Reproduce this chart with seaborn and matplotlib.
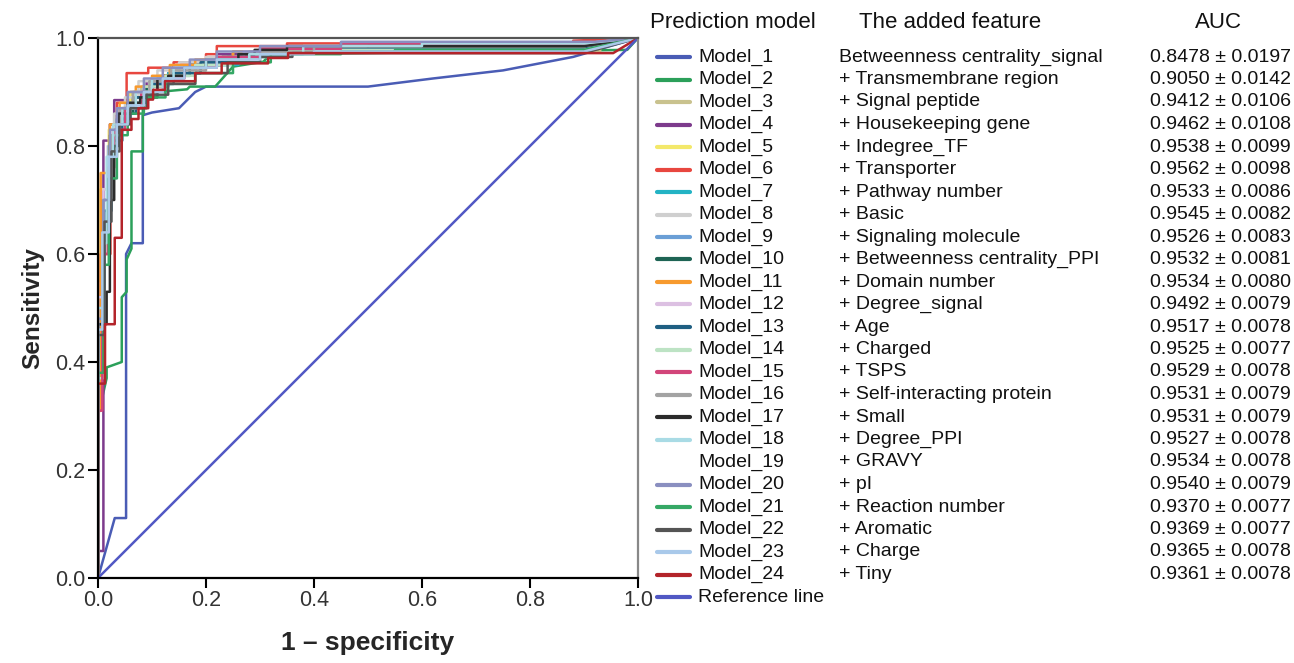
import numpy as np
import pandas as pd
import matplotlib
matplotlib.use("Agg")
import matplotlib.pyplot as plt
from matplotlib.lines import Line2D
import seaborn as sns

# ---------------- data ----------------
model_names = [f"Model_{i}" for i in range(1, 25)]
features = ["Betweenness centrality_signal", "+ Transmembrane region", "+ Signal peptide",
            "+ Housekeeping gene", "+ Indegree_TF", "+ Transporter", "+ Pathway number",
            "+ Basic", "+ Signaling molecule", "+ Betweenness centrality_PPI",
            "+ Domain number", "+ Degree_signal", "+ Age", "+ Charged", "+ TSPS",
            "+ Self-interacting protein", "+ Small", "+ Degree_PPI", "+ GRAVY", "+ pI",
            "+ Reaction number", "+ Aromatic", "+ Charge", "+ Tiny"]
auc_text = ["0.8478 ± 0.0197", "0.9050 ± 0.0142", "0.9412 ± 0.0106", "0.9462 ± 0.0108",
            "0.9538 ± 0.0099", "0.9562 ± 0.0098", "0.9533 ± 0.0086", "0.9545 ± 0.0082",
            "0.9526 ± 0.0083", "0.9532 ± 0.0081", "0.9534 ± 0.0080", "0.9492 ± 0.0079",
            "0.9517 ± 0.0078", "0.9525 ± 0.0077", "0.9529 ± 0.0078", "0.9531 ± 0.0079",
            "0.9531 ± 0.0079", "0.9527 ± 0.0078", "0.9534 ± 0.0078", "0.9540 ± 0.0079",
            "0.9370 ± 0.0077", "0.9369 ± 0.0077", "0.9365 ± 0.0078", "0.9361 ± 0.0078"]
colors = ["#4a5cb5", "#2ba05a", "#c9c28e", "#7d3b8c", "#f3e86a", "#e8473f", "#23b3c4",
          "#cfcfcf", "#6b9fd6", "#1e6454", "#f79a2e", "#dcc0e2", "#1f5f82", "#bde3c4",
          "#d2457a", "#a3a3a3", "#2b2b2b", "#a9dbe5", "#ffffff", "#8a8fc0", "#35a865",
          "#555555", "#a9c9ea", "#b3242a"]
ref_color = "#5158c4"

# Model_1 and Model_2: polyline vertices (1 - specificity, sensitivity)
m1_fpr = [0, 0.031, 0.052, 0.052, 0.062, 0.083, 0.083, 0.10, 0.15, 0.18, 0.20, 0.50, 0.62, 0.75, 0.88, 1.0]
m1_tpr = [0, 0.111, 0.111, 0.60, 0.62, 0.62, 0.857, 0.862, 0.870, 0.90, 0.91, 0.91, 0.925, 0.94, 0.965, 1.0]
m2_fpr = [0, 0, 0.016, 0.016, 0.044, 0.044, 0.053, 0.053, 0.062, 0.062, 0.083, 0.083, 0.11,
          0.165, 0.17, 0.217, 0.25, 0.306, 0.32, 0.98, 1.0]
m2_tpr = [0, 0.30, 0.37, 0.39, 0.40, 0.52, 0.53, 0.59, 0.61, 0.79, 0.79, 0.89, 0.90,
          0.905, 0.91, 0.91, 0.947, 0.956, 0.97, 0.978, 1.0]

# Models 3-24: staircase corner points (fpr of riser, sensitivity at top of riser)
m3_fpr = [0, 0, 0.008, 0.02, 0.035, 0.055, 0.08, 0.11, 0.15, 0.2, 0.26, 0.35, 0.93, 1]
m3_tpr = [0, 0.5, 0.70, 0.80, 0.85, 0.88, 0.91, 0.93, 0.945, 0.955, 0.965, 0.975, 0.985, 1]
m4_fpr = [0, 0, 0.01, 0.022, 0.03, 0.06, 0.09, 0.13, 0.18, 0.22, 0.3, 0.45, 0.9, 1]
m4_tpr = [0, 0.05, 0.81, 0.84, 0.885, 0.90, 0.92, 0.935, 0.95, 0.97, 0.98, 0.99, 0.99, 1]
m5_fpr = [0, 0, 0.005, 0.02, 0.04, 0.06, 0.1, 0.14, 0.19, 0.25, 0.35, 0.92, 1]
m5_tpr = [0, 0.55, 0.72, 0.83, 0.87, 0.90, 0.925, 0.945, 0.96, 0.975, 0.985, 0.99, 1]
m6_fpr = [0, 0, 0.005, 0.023, 0.035, 0.053, 0.093, 0.14, 0.2, 0.22, 0.35, 0.88, 1]
m6_tpr = [0, 0.31, 0.60, 0.80, 0.88, 0.935, 0.945, 0.955, 0.97, 0.985, 0.99, 0.995, 1]
m7_fpr = [0, 0, 0.01, 0.02, 0.035, 0.06, 0.09, 0.13, 0.19, 0.26, 0.34, 0.9, 1]
m7_tpr = [0, 0.45, 0.68, 0.80, 0.85, 0.88, 0.91, 0.935, 0.95, 0.965, 0.975, 0.978, 1]
m8_fpr = [0, 0, 0.007, 0.018, 0.03, 0.05, 0.075, 0.11, 0.15, 0.2, 0.27, 0.38, 0.9, 1]
m8_tpr = [0, 0.5, 0.68, 0.80, 0.86, 0.89, 0.92, 0.94, 0.955, 0.965, 0.975, 0.985, 0.985, 1]
m9_fpr = [0, 0, 0.01, 0.02, 0.035, 0.06, 0.085, 0.12, 0.17, 0.24, 0.32, 0.45, 0.9, 1]
m9_tpr = [0, 0.45, 0.65, 0.80, 0.85, 0.88, 0.91, 0.93, 0.95, 0.965, 0.975, 0.985, 0.985, 1]
m10_fpr = [0, 0, 0.008, 0.022, 0.04, 0.065, 0.09, 0.12, 0.17, 0.23, 0.3, 0.5, 0.9, 1]
m10_tpr = [0, 0.48, 0.70, 0.82, 0.86, 0.89, 0.91, 0.93, 0.95, 0.965, 0.975, 0.985, 0.985, 1]
m11_fpr = [0, 0, 0.005, 0.005, 0.022, 0.04, 0.07, 0.1, 0.133, 0.18, 0.25, 0.35, 0.9, 1]
m11_tpr = [0, 0.31, 0.64, 0.75, 0.84, 0.88, 0.91, 0.93, 0.95, 0.96, 0.975, 0.98, 0.98, 1]
m12_fpr = [0, 0, 0.01, 0.025, 0.04, 0.07, 0.1, 0.14, 0.2, 0.27, 0.4, 0.6, 0.9, 1]
m12_tpr = [0, 0.52, 0.72, 0.83, 0.87, 0.90, 0.925, 0.945, 0.96, 0.975, 0.985, 0.99, 0.99, 1]
m13_fpr = [0, 0, 0.012, 0.025, 0.045, 0.07, 0.1, 0.14, 0.19, 0.26, 0.35, 0.9, 1]
m13_tpr = [0, 0.47, 0.68, 0.81, 0.86, 0.89, 0.915, 0.935, 0.955, 0.97, 0.98, 0.98, 1]
m14_fpr = [0, 0, 0.01, 0.02, 0.035, 0.055, 0.085, 0.125, 0.18, 0.25, 0.35, 0.9, 1]
m14_tpr = [0, 0.37, 0.62, 0.78, 0.84, 0.88, 0.91, 0.93, 0.95, 0.965, 0.978, 0.978, 1]
m15_fpr = [0, 0, 0.008, 0.018, 0.03, 0.05, 0.08, 0.11, 0.16, 0.22, 0.3, 0.45, 0.9, 1]
m15_tpr = [0, 0.31, 0.60, 0.76, 0.83, 0.87, 0.90, 0.925, 0.945, 0.965, 0.98, 0.99, 0.99, 1]
m16_fpr = [0, 0, 0.01, 0.025, 0.04, 0.065, 0.095, 0.135, 0.2, 0.28, 0.4, 0.9, 1]
m16_tpr = [0, 0.45, 0.70, 0.82, 0.87, 0.90, 0.92, 0.94, 0.96, 0.975, 0.985, 0.985, 1]
m17_fpr = [0, 0, 0.016, 0.022, 0.03, 0.038, 0.045, 0.055, 0.078, 0.11, 0.13, 0.16, 0.2, 0.26, 0.29, 0.35, 0.9, 1]
m17_tpr = [0, 0.47, 0.53, 0.70, 0.80, 0.86, 0.87, 0.88, 0.89, 0.925, 0.93, 0.945, 0.96, 0.97, 0.978, 0.985, 0.985, 1]
m18_fpr = [0, 0, 0.01, 0.016, 0.028, 0.045, 0.07, 0.1, 0.14, 0.2, 0.28, 0.38, 0.6, 0.9, 1]
m18_tpr = [0, 0.5, 0.62, 0.78, 0.84, 0.87, 0.90, 0.925, 0.945, 0.96, 0.97, 0.985, 0.99, 0.99, 1]
m19_fpr = [0, 0, 0.01, 0.02, 0.035, 0.06, 0.09, 0.13, 0.2, 0.3, 0.9, 1]
m19_tpr = [0, 0.5, 0.72, 0.84, 0.88, 0.91, 0.93, 0.95, 0.965, 0.98, 0.985, 1]
m20_fpr = [0, 0, 0.01, 0.022, 0.035, 0.055, 0.085, 0.12, 0.17, 0.22, 0.3, 0.45, 0.92, 1]
m20_tpr = [0, 0.48, 0.70, 0.83, 0.87, 0.90, 0.925, 0.945, 0.96, 0.975, 0.985, 0.993, 0.993, 1]
m21_fpr = [0, 0, 0.01, 0.02, 0.035, 0.055, 0.085, 0.125, 0.18, 0.25, 0.32, 0.45, 0.55, 0.9, 1]
m21_tpr = [0, 0.38, 0.58, 0.74, 0.82, 0.86, 0.89, 0.915, 0.935, 0.955, 0.97, 0.975, 0.978, 0.978, 1]
m22_fpr = [0, 0, 0.012, 0.025, 0.04, 0.06, 0.09, 0.13, 0.18, 0.24, 0.3, 0.36, 0.9, 1]
m22_tpr = [0, 0.45, 0.66, 0.79, 0.84, 0.87, 0.895, 0.915, 0.935, 0.955, 0.965, 0.972, 0.972, 1]
m23_fpr = [0, 0, 0.008, 0.02, 0.035, 0.055, 0.085, 0.12, 0.16, 0.22, 0.3, 0.4, 0.9, 1]
m23_tpr = [0, 0.46, 0.64, 0.78, 0.84, 0.875, 0.90, 0.925, 0.945, 0.96, 0.97, 0.975, 0.975, 1]
m24_fpr = [0, 0, 0.013, 0.031, 0.044, 0.062, 0.075, 0.093, 0.102, 0.124, 0.18, 0.229, 0.315, 0.352, 0.954, 1]
m24_tpr = [0, 0.36, 0.47, 0.63, 0.83, 0.85, 0.87, 0.886, 0.904, 0.92, 0.935, 0.953, 0.963, 0.972, 0.972, 1]

curves = [(m1_fpr, m1_tpr), (m2_fpr, m2_tpr), (m3_fpr, m3_tpr), (m4_fpr, m4_tpr),
          (m5_fpr, m5_tpr), (m6_fpr, m6_tpr), (m7_fpr, m7_tpr), (m8_fpr, m8_tpr),
          (m9_fpr, m9_tpr), (m10_fpr, m10_tpr), (m11_fpr, m11_tpr), (m12_fpr, m12_tpr),
          (m13_fpr, m13_tpr), (m14_fpr, m14_tpr), (m15_fpr, m15_tpr), (m16_fpr, m16_tpr),
          (m17_fpr, m17_tpr), (m18_fpr, m18_tpr), (m19_fpr, m19_tpr), (m20_fpr, m20_tpr),
          (m21_fpr, m21_tpr), (m22_fpr, m22_tpr), (m23_fpr, m23_tpr), (m24_fpr, m24_tpr)]
ref_fpr = [0, 1]
ref_tpr = [0, 1]


def stairs(xs, ys):
    """Expand staircase corners into polyline vertices; last segment straight to (1,1)."""
    vx, vy = [xs[0]], [ys[0]]
    for i in range(1, len(xs) - 1):
        vx += [xs[i], xs[i]]
        vy += [ys[i - 1], ys[i]]
    vx.append(xs[-1])
    vy.append(ys[-1])
    return vx, vy


# ---------------- figure ----------------
sns.set_style("ticks")
plt.rcParams["font.family"] = ["Liberation Sans", "DejaVu Sans"]

W, H = 1294, 663
fig = plt.figure(figsize=(W / 100, H / 100), dpi=100)
ax = fig.add_axes([98 / W, 1 - 578 / H, 540 / W, 540 / H])

# white Model_19 drawn first (invisible in reference)
order = [18] + [i for i in range(24) if i != 18]
for i in order:
    xs, ys = curves[i]
    if i >= 2:
        vx, vy = stairs(xs, ys)
    else:
        vx, vy = xs, ys
    df = pd.DataFrame({"fpr": vx, "tpr": vy})
    sns.lineplot(data=df, x="fpr", y="tpr", sort=False, estimator=None, ax=ax,
                 color=colors[i], linewidth=1.8, zorder=2 if i != 18 else 1)

sns.lineplot(x=ref_fpr, y=ref_tpr, sort=False, estimator=None, ax=ax,
             color=ref_color, linewidth=1.8, zorder=2)

ticks = np.arange(0, 1.01, 0.2)
ax.set_xlim(0, 1)
ax.set_ylim(0, 1)
ax.set_xticks(ticks)
ax.set_yticks(ticks)
ax.set_xticklabels([f"{v:.1f}" for v in ticks])
ax.set_yticklabels([f"{v:.1f}" for v in ticks])
ax.tick_params(axis="both", labelsize=15.5, length=7, width=1.5, color="black",
               labelcolor="#333333", direction="out", pad=2)
ax.set_xlabel("1 – specificity", fontsize=19, fontweight="bold", labelpad=14)
ax.set_ylabel("Sensitivity", fontsize=17.5, fontweight="bold", labelpad=8)
for side in ["left", "bottom"]:
    ax.spines[side].set_color("black")
    ax.spines[side].set_linewidth(1.6)
ax.spines["top"].set_color("#555555")
ax.spines["top"].set_linewidth(1.6)
ax.spines["right"].set_color("#888888")
ax.spines["right"].set_linewidth(1.6)
ax.spines["right"].set_visible(True)
ax.spines["top"].set_visible(True)
ax.grid(False)

# ---------------- legend table ----------------
def fy(py):
    return 1 - py / H

fig.text(650 / W, fy(23), "Prediction model", fontsize=16, va="center", ha="left", color="#111111")
fig.text(859 / W, fy(23), "The added feature", fontsize=16, va="center", ha="left", color="#111111")
fig.text(1218 / W, fy(23), "AUC", fontsize=16, va="center", ha="center", color="#111111")

row0, dy = 57, 22.5
for i in range(24):
    y = fy(row0 + i * dy)
    fig.add_artist(Line2D([657 / W, 690 / W], [y, y], transform=fig.transFigure,
                          color=colors[i], linewidth=3))
    fig.text(698 / W, y, model_names[i], fontsize=14, va="center", ha="left", color="#111111")
    fig.text(839 / W, y, features[i], fontsize=14, va="center", ha="left", color="#111111")
    fig.text(1291 / W, y, auc_text[i], fontsize=14, va="center", ha="right", color="#111111")

y = fy(row0 + 24 * dy)
fig.add_artist(Line2D([657 / W, 690 / W], [y, y], transform=fig.transFigure,
                      color=ref_color, linewidth=3))
fig.text(698 / W, y, "Reference line", fontsize=14, va="center", ha="left", color="#111111")

fig.savefig("out.png", dpi=100)
